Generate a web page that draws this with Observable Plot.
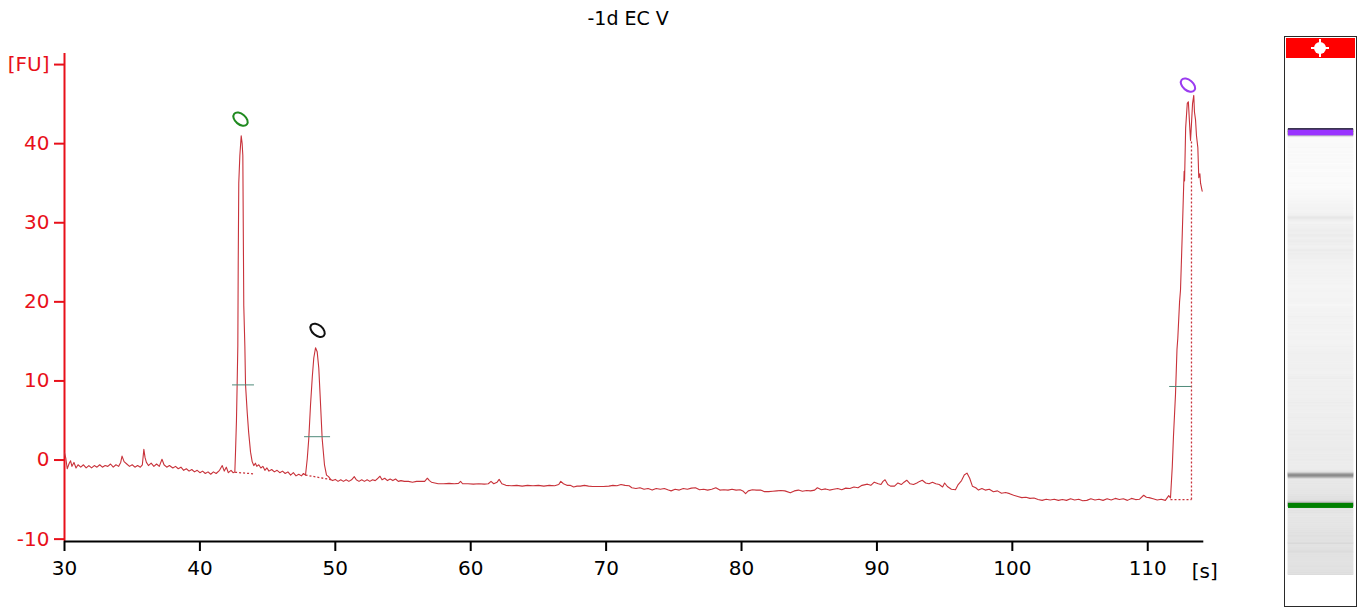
<!DOCTYPE html>
<html><head><meta charset="utf-8">
<script src="https://cdn.jsdelivr.net/npm/d3@7"></script>
<script src="https://cdn.jsdelivr.net/npm/@observablehq/plot@0.6"></script>
<style>
body{margin:0;background:#fff;}
#wrap{position:relative;width:1371px;height:609px;overflow:hidden;background:#fff;}
#wrap svg{position:absolute;left:0;top:0;}
.abs{position:absolute;box-sizing:border-box;}
</style>
</head><body><div id="wrap"></div>
<script>
// ---------- data ----------
const title = "-1d EC V";
const xDomain = [30, 114.14];
const yDomain = [-10.3, 51.4];
const xTicks = [30, 40, 50, 60, 70, 80, 90, 100, 110];
const yTicks = [-10, 0, 10, 20, 30, 40, 50];
const yUnitLabel = "[FU]";   // label shown at the 50 tick
const xUnitLabel = "[s]";

// electropherogram trace: [time s, fluorescence FU]
const trace = [
[30.0,0.9],[30.1,0.2],[30.2,-1.1],[30.35,-0.4],[30.45,-0.1],[30.55,-0.8],[30.7,-0.3],[30.85,-1.0],[31.0,-0.6],[31.2,-0.9],[31.4,-0.6],[31.6,-1.0],[31.8,-0.7],[32.0,-1.0],[32.2,-0.7],[32.4,-0.9],[32.6,-0.6],[32.8,-0.9],[33.0,-0.7],[33.2,-0.8],[33.4,-0.5],[33.6,-0.9],[33.8,-0.6],[34.0,-0.8],[34.15,-0.3],[34.25,0.5],[34.4,-0.2],[34.6,-0.5],[34.8,-0.8],[35.0,-0.6],[35.2,-0.9],[35.4,-0.7],[35.6,-0.9],[35.75,-0.6],[35.86,1.35],[35.95,0.3],[36.05,-0.3],[36.2,-0.7],[36.4,-0.4],[36.6,-0.8],[36.8,-0.5],[37.0,-0.8],[37.2,0.1],[37.35,-0.6],[37.55,-0.9],[37.75,-0.7],[38.0,-1.0],[38.2,-0.8],[38.4,-1.1],[38.6,-0.9],[38.8,-1.3],[39.0,-1.1],[39.2,-1.4],[39.4,-1.2],[39.6,-1.5],[39.8,-1.3],[40.0,-1.6],[40.2,-1.4],[40.4,-1.7],[40.6,-1.5],[40.8,-1.8],[41.0,-1.5],[41.2,-1.7],[41.45,-1.3],[41.65,-0.7],[41.8,-1.4],[41.95,-0.9],[42.1,-1.6],[42.3,-1.3],[42.45,-1.6],[42.58,-1.5],
[42.63,1.0],[42.7,5],[42.75,9.5],[42.8,14.4],[42.83,25],[42.87,35],[42.95,38.5],[43.05,41],[43.12,40],[43.17,38.5],[43.24,19.5],[43.32,14.4],[43.37,9.5],[43.49,6.1],[43.6,3.5],[43.74,1.0],[43.86,-0.2],
[43.98,-0.7],[44.1,-0.4],[44.2,-0.8],[44.35,-0.6],[44.5,-1.0],[44.65,-0.8],[44.8,-1.3],[44.95,-1.0],[45.1,-1.4],[45.3,-1.2],[45.5,-1.5],[45.7,-1.3],[45.9,-1.6],[46.1,-1.4],[46.3,-1.7],[46.5,-1.5],[46.7,-1.9],[46.9,-1.6],[47.1,-2.0],[47.3,-1.8],[47.5,-2.0],[47.65,-1.7],[47.8,-1.9],
[47.93,0.2],[48.04,2.7],[48.17,7],[48.3,10.5],[48.41,12.9],[48.54,14.2],[48.66,13.7],[48.78,11.6],[48.9,7.4],[49.03,2.7],[49.2,-0.6],[49.35,-1.9],[49.5,-2.1],[49.65,-2.45],
[49.8,-2.6],[50.0,-2.45],[50.2,-2.7],[50.4,-2.5],[50.6,-2.7],[50.8,-2.5],[51.0,-2.7],[51.2,-2.5],[51.4,-2.1],[51.55,-2.5],[51.75,-2.7],[51.95,-2.5],[52.15,-2.7],[52.35,-2.5],[52.55,-2.7],[52.75,-2.5],[52.95,-2.6],[53.15,-2.3],[53.3,-2.05],[53.45,-2.5],[53.65,-2.3],[53.85,-2.6],[54.05,-2.4],[54.25,-2.6],[54.45,-2.4],[54.65,-2.7],[54.85,-2.6],[55.1,-2.7],[55.4,-2.7],[55.7,-2.8],[56.0,-2.7],[56.3,-2.7],[56.6,-2.7],[56.8,-2.3],[56.95,-2.6],[57.1,-2.8],[57.35,-2.9],[57.6,-3.0],[58.0,-3.0],[58.4,-2.95],[58.8,-3.0],[59.1,-2.95],[59.25,-2.7],[59.4,-3.0],[59.8,-3.0],[60.2,-3.05],[60.6,-3.0],[61.0,-3.05],[61.3,-3.0],[61.5,-2.7],[61.7,-3.0],[61.95,-2.8],[62.1,-2.45],[62.3,-3.0],[62.6,-3.2],[63.0,-3.25],[63.4,-3.2],[63.8,-3.3],[64.2,-3.2],[64.6,-3.25],[65.0,-3.2],[65.4,-3.3],[65.8,-3.2],[66.2,-3.25],[66.5,-3.1],[66.65,-2.7],[66.85,-3.0],[67.1,-3.2],[67.35,-3.2],[67.6,-3.4],[67.85,-3.3],[68.1,-3.3],[68.4,-3.2],[68.7,-3.3],[69.0,-3.35],[69.4,-3.35],[69.8,-3.35],[70.2,-3.3],[70.5,-3.2],[70.8,-3.25],[71.1,-3.1],[71.4,-3.2],[71.7,-3.25],[71.9,-3.5],[72.2,-3.6],[72.5,-3.5],[72.8,-3.7],[73.1,-3.6],[73.4,-3.8],[73.7,-3.6],[74.0,-3.7],[74.3,-3.6],[74.6,-3.8],[74.8,-3.9],[75.1,-3.7],[75.4,-3.8],[75.7,-3.6],[76.0,-3.7],[76.3,-3.55],[76.6,-3.5],[76.9,-3.75],[77.2,-3.7],[77.5,-3.8],[77.8,-3.7],[78.1,-3.5],[78.4,-3.8],[78.7,-3.75],[79.0,-3.8],[79.3,-3.7],[79.6,-3.8],[79.9,-3.75],[80.1,-3.9],[80.3,-4.25],[80.5,-3.9],[80.8,-3.75],[81.1,-3.8],[81.4,-3.8],[81.7,-4.0],[82.0,-4.0],[82.3,-3.95],[82.6,-3.9],[82.9,-3.85],[83.2,-3.9],[83.6,-4.15],[83.9,-3.9],[84.2,-3.8],[84.5,-3.95],[84.8,-3.85],[85.1,-3.9],[85.4,-3.8],[85.6,-3.5],[85.9,-3.75],[86.2,-3.65],[86.5,-3.8],[86.8,-3.7],[87.1,-3.6],[87.4,-3.75],[87.7,-3.55],[88.0,-3.6],[88.3,-3.4],[88.6,-3.5],[88.9,-3.2],[89.3,-3.05],[89.55,-3.2],[89.8,-2.8],[90.1,-3.0],[90.3,-3.1],[90.45,-2.7],[90.6,-2.5],[90.8,-3.1],[91.0,-3.3],[91.3,-3.3],[91.55,-2.9],[91.8,-3.1],[92.0,-2.8],[92.2,-2.55],[92.45,-3.0],[92.7,-3.1],[92.95,-2.9],[93.15,-2.7],[93.35,-2.55],[93.6,-2.9],[93.85,-3.0],[94.1,-2.8],[94.35,-3.0],[94.6,-3.1],[94.85,-3.4],[95.0,-2.9],[95.2,-3.35],[95.5,-3.7],[95.8,-3.75],[96.0,-3.1],[96.25,-2.6],[96.45,-1.9],[96.65,-1.65],[96.85,-2.3],[97.05,-3.3],[97.3,-3.5],[97.5,-3.8],[97.75,-3.6],[98.0,-3.8],[98.3,-3.7],[98.6,-4.0],[98.9,-3.9],[99.2,-4.2],[99.5,-4.1],[99.8,-4.25],[100.1,-4.45],[100.4,-4.6],[100.7,-4.75],[101.0,-4.7],[101.3,-4.85],[101.6,-4.8],[101.9,-5.0],[102.2,-5.1],[102.5,-4.95],[102.8,-5.05],[103.1,-4.95],[103.4,-5.1],[103.7,-5.0],[104.0,-5.1],[104.3,-4.9],[104.6,-5.05],[104.9,-4.95],[105.2,-5.15],[105.5,-5.1],[105.8,-4.9],[106.1,-5.05],[106.4,-4.95],[106.7,-5.1],[107.0,-4.9],[107.3,-5.05],[107.6,-4.85],[107.9,-5.0],[108.2,-4.9],[108.5,-5.1],[108.8,-4.85],[109.1,-5.0],[109.4,-4.95],[109.7,-4.45],[109.9,-4.7],[110.1,-4.75],[110.4,-4.9],[110.7,-5.05],[111.0,-4.95],[111.3,-5.1],[111.55,-4.5],[111.68,-4.8],
[111.81,-0.9],[111.9,3],[112.05,8.3],[112.16,14],[112.22,15.4],[112.35,20],[112.42,21.5],[112.55,28.6],[112.65,34.5],[112.69,36.5],[112.72,35.3],[112.8,42],[112.92,45.1],[113.0,45.3],[113.09,42.5],[113.16,40.4],[113.23,42.5],[113.31,45.1],[113.4,46.1],[113.45,44],[113.53,43],[113.6,41],[113.7,39.5],[113.77,35.7],[113.85,36.2],[113.9,35],[114.02,34]
];

// peak width markers (horizontal ticks)
const widthTicks = [
  {s1: 42.41, s2: 44.03, v: 9.5},
  {s1: 47.73, s2: 49.65, v: 2.95},
  {s1: 111.62, s2: 113.25, v: 9.3}
];
// dotted peak baselines
const baselines = [
  {s1: 42.6, v1: -1.55, s2: 44.0, v2: -1.75},
  {s1: 47.8, v1: -1.9, s2: 49.75, v2: -2.5},
  {s1: 111.68, v1: -5.0, s2: 113.23, v2: -5.0},
  {s1: 113.23, v1: -5.0, s2: 113.23, v2: 40.4}
];
// peak annotation markers
const markers = [
  {name: "lower", s: 43.0, v: 43.1},
  {name: "peak", s: 48.69, v: 16.4},
  {name: "upper", s: 112.97, v: 47.4}
];
// gel lane marker bands (time range)
const gelMarkers = [
  {name: "lower", from: 42.45, to: 43.4},
  {name: "upper", from: 112.0, to: 113.3}
];
const gelEnd = 113.23;

// ---------- styles ----------
const RED = "#e8101a";
const TRACE = "#c8323a";
const markerColor = {lower: "#1f8a1f", peak: "#111111", upper: "#9b3cf0"};
const gelColor = {lower: "#008000", upper: "#9933ff"};
const FONT = "DejaVu Sans, Verdana, sans-serif";
const FS = 20;

const ellipseSymbol = {
  draw(ctx) {
    const a = 8.3, b = 5.2, th = 40 * Math.PI / 180, k = 0.5523;
    const c = Math.cos(th), s = Math.sin(th);
    const P = (x, y) => [x * c - y * s, x * s + y * c];
    ctx.moveTo(...P(a, 0));
    ctx.bezierCurveTo(...P(a, k * b), ...P(k * a, b), ...P(0, b));
    ctx.bezierCurveTo(...P(-k * a, b), ...P(-a, k * b), ...P(-a, 0));
    ctx.bezierCurveTo(...P(-a, -k * b), ...P(-k * a, -b), ...P(0, -b));
    ctx.bezierCurveTo(...P(k * a, -b), ...P(a, -k * b), ...P(a, 0));
    ctx.closePath();
  }
};

const traceData = trace.map(([s, v]) => ({s, v}));

const main = Plot.plot({
  width: 1371, height: 609,
  marginLeft: 64, marginRight: 1371 - 1203.3, marginTop: 53, marginBottom: 68,
  style: {fontFamily: FONT, background: "white"},
  x: {domain: xDomain, axis: null},
  y: {domain: yDomain, axis: null},
  color: {type: "identity"},
  marks: [
    Plot.axisY({ticks: yTicks, tickSize: 10, tickPadding: 5, strokeWidth: 2, color: RED, fontSize: FS,
      tickFormat: d => d === 50 ? yUnitLabel : String(d), label: null}),
    Plot.axisX({ticks: xTicks, tickSize: 10, tickPadding: 9, strokeWidth: 2, color: "black", fontSize: FS, label: null}),
    Plot.ruleX([xDomain[0]], {stroke: RED, strokeWidth: 2}),
    Plot.ruleY([yDomain[0]], {stroke: "black", strokeWidth: 2}),
    Plot.link(baselines, {x1: "s1", y1: "v1", x2: "s2", y2: "v2", stroke: TRACE, strokeWidth: 1.3, strokeDasharray: "2,2"}),
    Plot.line(traceData, {x: "s", y: "v", stroke: TRACE, strokeWidth: 1.1}),
    Plot.ruleY(widthTicks, {y: "v", x1: "s1", x2: "s2", stroke: "#4f8a7a", strokeWidth: 1}),
    Plot.dot(markers, {x: "s", y: "v", symbol: ellipseSymbol, stroke: d => markerColor[d.name], strokeWidth: 2, fill: "none"}),
    Plot.text([title], {frameAnchor: "top", lineAnchor: "middle", dy: -35, dx: -6, fontSize: FS - 1, fill: "black"}),
    Plot.text([xUnitLabel], {frameAnchor: "bottom-right", textAnchor: "start", lineAnchor: "middle", dx: -12, dy: 30, fontSize: FS, fill: "black"})
  ]
});

// gel lane rows derived from the trace
const gelRows = [];
for (let i = 0; i < traceData.length - 1; i++) {
  const a = traceData[i], b = traceData[i + 1];
  if (a.s >= gelEnd) break;
  gelRows.push({s0: a.s, s1: Math.min(b.s, gelEnd), v: a.v});
}

const gel = Plot.plot({
  width: 1371, height: 609, margin: 0,
  style: {background: "transparent"},
  x: {domain: [0, 1], range: [1288, 1353], axis: null},
  y: {domain: [43, 113], range: [505, 130], axis: null},
  color: {type: "linear", domain: [-5.5, 14], range: ["#fdfdfd", "#8a8a8a"], clamp: true},
  marks: [
    Plot.rect(gelRows, {x1: 0, x2: 1, y1: "s0", y2: "s1", fill: "v", stroke: "v", strokeWidth: 0.6}),
    Plot.rect(gelMarkers, {x1: 0, x2: 1, y1: "from", y2: "to", fill: d => gelColor[d.name]}),
    Plot.ruleY(gelMarkers.filter(d => d.name === "upper"), {y: "to", x1: 0, x2: 1, stroke: "#3a3450", strokeWidth: 1.6})
  ]
});

const wrap = document.getElementById("wrap");
wrap.appendChild(main);
wrap.appendChild(gel);

// gel frame and header
const frame = document.createElement("div");
frame.className = "abs";
Object.assign(frame.style, {left: "1284px", top: "36px", width: "73px", height: "571px", border: "1.5px solid #2a2a2a"});
wrap.appendChild(frame);
const head = document.createElement("div");
head.className = "abs";
Object.assign(head.style, {left: "1286px", top: "38px", width: "69px", height: "20px", background: "#ff0000"});
wrap.appendChild(head);
const blob = document.createElement("div");
blob.className = "abs";
Object.assign(blob.style, {left: "1314px", top: "42px", width: "12px", height: "12px", background: "#fff", borderRadius: "50%"});
wrap.appendChild(blob);
const crossH = document.createElement("div");
crossH.className = "abs";
Object.assign(crossH.style, {left: "1311px", top: "47px", width: "18px", height: "2px", background: "#fff"});
wrap.appendChild(crossH);
const crossV = document.createElement("div");
crossV.className = "abs";
Object.assign(crossV.style, {left: "1319px", top: "39px", width: "2px", height: "18px", background: "#fff"});
wrap.appendChild(crossV);
</script></body></html>
